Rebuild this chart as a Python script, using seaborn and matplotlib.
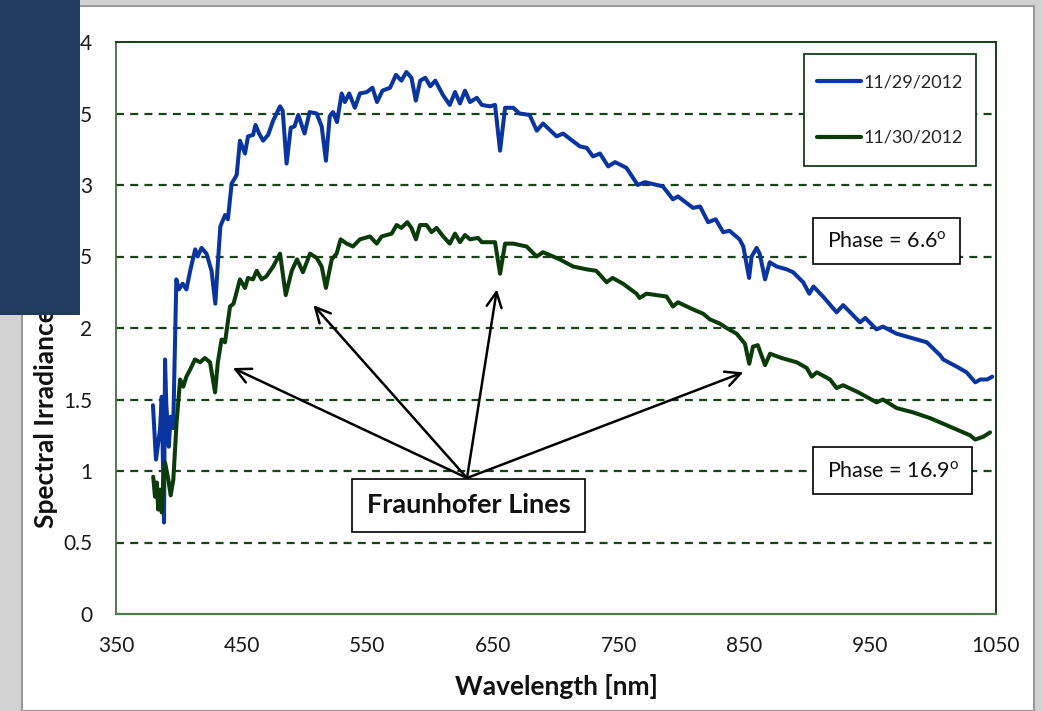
import numpy as np
import pandas as pd
import matplotlib
matplotlib.use("Agg")
import matplotlib.pyplot as plt
from matplotlib.patches import Rectangle
import seaborn as sns

# --- spectra -------------------------------------------------------------
wl_1129 = [379.4, 381.8, 385, 386.4, 388.2, 389, 390, 392, 393.5, 395.5, 398, 400, 403, 406,
           409, 413, 415, 418, 422, 426, 429, 431, 433, 436.7, 439, 442, 446, 448.6, 452.6,
           455, 459, 461, 463.8, 467, 471, 475, 480.5, 482.6, 485.7, 489, 492, 495, 500, 504,
           509.6, 513.6, 517, 520, 522.6, 525.8, 529.5, 532, 535.5, 540, 544, 549.5, 554,
           557.6, 562, 568, 572.7, 577, 581, 585, 588.5, 592, 596, 600, 604, 610, 615.5,
           619.7, 623.6, 627.6, 631.6, 637, 641, 647.5, 651.5, 655.5, 659.5, 666, 671, 679,
           684.7, 689.7, 700.5, 705.6, 719, 724.4, 729.4, 735, 741.5, 747, 756, 765, 770.8,
           785, 793, 797, 809, 814.6, 821, 827, 833, 838, 846, 849, 853.6, 855.6, 859.6, 862,
           866.3, 870, 875.5, 883.5, 888.6, 896.6, 901.5, 904.8, 912.4, 923.2, 928.4, 941.8,
           946, 955, 960, 971, 987, 995, 1005.5, 1008, 1018.7, 1026.6, 1033.5, 1037.5, 1043,
           1047]
irr_1129 = [1.46, 1.08, 1.29, 1.52, 0.64, 1.78, 1.47, 1.17, 1.38, 1.30, 2.34, 2.27, 2.31, 2.27,
            2.40, 2.55, 2.50, 2.56, 2.52, 2.40, 2.17, 2.45, 2.71, 2.79, 2.76, 3.01, 3.07, 3.31,
            3.22, 3.34, 3.35, 3.42, 3.36, 3.31, 3.35, 3.45, 3.55, 3.52, 3.15, 3.40, 3.41, 3.49,
            3.36, 3.51, 3.50, 3.41, 3.17, 3.48, 3.51, 3.44, 3.64, 3.58, 3.64, 3.54, 3.64, 3.65,
            3.68, 3.58, 3.66, 3.68, 3.77, 3.73, 3.79, 3.75, 3.59, 3.73, 3.75, 3.69, 3.73, 3.63,
            3.56, 3.65, 3.57, 3.66, 3.58, 3.61, 3.56, 3.55, 3.56, 3.24, 3.54, 3.54, 3.50, 3.49,
            3.38, 3.43, 3.34, 3.36, 3.27, 3.26, 3.20, 3.22, 3.13, 3.16, 3.12, 3.00, 3.02, 2.99,
            2.90, 2.92, 2.84, 2.85, 2.74, 2.76, 2.67, 2.68, 2.62, 2.57, 2.35, 2.50, 2.56, 2.52,
            2.34, 2.46, 2.43, 2.41, 2.39, 2.32, 2.24, 2.29, 2.22, 2.11, 2.16, 2.04, 2.07, 1.99,
            2.01, 1.96, 1.92, 1.90, 1.81, 1.78, 1.73, 1.69, 1.62, 1.64, 1.64, 1.66]

wl_1130 = [379.6, 381, 382.4, 383.6, 385, 386.4, 387.6, 389, 391.6, 393.5, 395.6, 398.2, 401,
           403.5, 406, 409, 412.8, 416.8, 420.7, 424.8, 428.8, 431, 434, 436.7, 440.7, 443.5,
           448.6, 452.6, 455, 459, 461.9, 465.8, 469.5, 475, 480.5, 485, 489.8, 494, 498.7,
           504.3, 509.6, 513.6, 517, 521.6, 525.5, 528.7, 533.5, 538.5, 544, 552, 557.4, 561.3,
           569.3, 573.2, 577, 581.7, 585, 588.6, 591.8, 597, 601, 605, 610.3, 615.5, 619.7,
           623.6, 627.6, 631.6, 638, 641, 651.5, 655.5, 659.5, 666, 676.6, 684.6, 689.7, 703,
           713.6, 724.4, 732, 740.3, 745, 753.3, 764, 766.5, 772, 788, 793, 797, 809, 817,
           822.5, 830.5, 835.7, 843.7, 850.3, 853.7, 856.7, 860.5, 866.3, 870.3, 879.5, 891.5,
           899.5, 903.4, 907.5, 918, 923.2, 928.4, 940.5, 955, 960, 971, 984, 997.5, 1005.5,
           1018.7, 1029.3, 1033.5, 1040, 1045.3]
irr_1130 = [0.96, 0.82, 0.92, 0.73, 0.87, 0.71, 0.92, 1.06, 0.94, 0.83, 0.94, 1.34, 1.64,
            1.59, 1.66, 1.71, 1.78, 1.76, 1.79, 1.76, 1.55, 1.76, 1.92, 1.90, 2.15, 2.17,
            2.34, 2.28, 2.35, 2.34, 2.40, 2.34, 2.36, 2.43, 2.52, 2.23, 2.40, 2.48, 2.39,
            2.52, 2.49, 2.43, 2.28, 2.48, 2.52, 2.62, 2.59, 2.57, 2.62, 2.64, 2.59, 2.64,
            2.66, 2.72, 2.70, 2.74, 2.70, 2.62, 2.72, 2.72, 2.67, 2.70, 2.64, 2.59, 2.66,
            2.60, 2.65, 2.62, 2.63, 2.60, 2.60, 2.38, 2.59, 2.59, 2.57, 2.50, 2.53, 2.48,
            2.43, 2.41, 2.40, 2.32, 2.35, 2.31, 2.24, 2.21, 2.24, 2.22, 2.15, 2.18, 2.13, 2.10,
            2.06, 2.03, 2.00, 1.96, 1.89, 1.75, 1.87, 1.88, 1.74, 1.82, 1.79, 1.76,
            1.72, 1.66, 1.69, 1.64, 1.58, 1.60, 1.55, 1.48, 1.50, 1.44, 1.41, 1.37, 1.34,
            1.29, 1.25, 1.22, 1.24, 1.27]

dates = ["11/29/2012", "11/30/2012"]
line_colors = ["#0a35a0", "#0b3a0b"]

x_ticks = [350, 450, 550, 650, 750, 850, 950, 1050]
y_ticks = [0, 0.5, 1, 1.5, 2, 2.5, 3, 3.5, 4]
y_tick_labels = ["0", "0.5", "1", "1.5", "2", "2.5", "3", "3.5", "4"]

phase_labels = ["Phase = 6.6$^{\\mathrm{o}}$", "Phase = 16.9$^{\\mathrm{o}}$"]
fraunhofer_label = "Fraunhofer Lines"
# wavelength / irradiance of the marked absorption features
fraunhofer_targets = [(443, 1.72), (507, 2.16), (653, 2.27), (849, 1.69)]

df = pd.concat([
    pd.DataFrame({"Wavelength": wl_1129, "Irradiance": irr_1129, "Date": dates[0]}),
    pd.DataFrame({"Wavelength": wl_1130, "Irradiance": irr_1130, "Date": dates[1]}),
], ignore_index=True)

# --- style ---------------------------------------------------------------
sns.set_theme(style="white")
plt.rcParams["font.family"] = ["Lato", "DejaVu Sans"]
plt.rcParams["mathtext.fontset"] = "custom"
plt.rcParams["mathtext.rm"] = "Lato"
plt.rcParams["mathtext.it"] = "Lato:italic"
plt.rcParams["mathtext.bf"] = "Lato:bold"

W, H = 1043, 711
fig = plt.figure(figsize=(W / 100, H / 100), dpi=100)
fig.patch.set_facecolor("#d2d2d2")

# slide panel behind the chart
fig.add_artist(Rectangle((22 / W, 0), (1034 - 22) / W, (H - 6) / H,
                         transform=fig.transFigure, facecolor="white",
                         edgecolor="#9a9a9a", lw=1.5, zorder=-5))

ax = fig.add_axes([116 / W, (H - 614) / H, 880 / W, 572 / H])
ax.set_facecolor("white")

sns.lineplot(data=df, x="Wavelength", y="Irradiance", hue="Date",
             palette=dict(zip(dates, line_colors)), estimator=None, sort=False,
             lw=2.9, ax=ax, legend=True)

ax.set_xlim(350, 1050)
ax.set_ylim(0, 4)
ax.set_xticks(x_ticks)
ax.set_xticklabels([str(t) for t in x_ticks])
ax.set_yticks(y_ticks)
ax.set_yticklabels(y_tick_labels)
ax.tick_params(axis="both", direction="out", length=7, width=1, color="#9a9a9a",
               labelsize=15, labelcolor="#1a1a1a")
ax.tick_params(axis="y", pad=10)
ax.tick_params(axis="x", pad=9)

# dashed horizontal gridlines
for yv in y_ticks[1:-1]:
    ax.axhline(yv, color="#1c421c", lw=1.6, ls=(0, (3.6, 2.8)), zorder=0.5)

for side in ["top", "right"]:
    ax.spines[side].set_color("#173d17")
    ax.spines[side].set_linewidth(1.4)
ax.spines["left"].set_color("#4a6a4a")
ax.spines["bottom"].set_color("#4e7a4e")
ax.spines["left"].set_linewidth(1.3)
ax.spines["bottom"].set_linewidth(1.6)

ax.set_xlabel("Wavelength [nm]", fontsize=19, fontweight="bold", color="#111111",
              labelpad=13)
ax.set_ylabel("")
fig.text(45 / W, (H - 528) / H, "Spectral Irradiance [\u00b5W/m\u00b2/nm]", rotation=90,
         ha="center", va="bottom", fontsize=19, fontweight="bold", color="#111111")

# legend: framed box drawn separately so its padding can differ per side
leg_box = (0.7818, 0.7832, 0.1955, 0.1958)
ax.add_patch(Rectangle(leg_box[:2], leg_box[2], leg_box[3], transform=ax.transAxes,
                       facecolor="white", edgecolor="#173d17", lw=1.3, zorder=6))
handles, labels = ax.get_legend_handles_labels()
leg = ax.legend(handles, labels, loc="center",
                bbox_to_anchor=(leg_box[0] + leg_box[2] / 2, leg_box[1] + leg_box[3] / 2),
                frameon=False, fontsize=13, handlelength=2.4, handletextpad=0.15,
                labelspacing=2.2, borderpad=0.2, borderaxespad=0)
leg.set_zorder(7)
for lh in leg.get_lines():
    lh.set_linewidth(3)

# phase annotations
box_kw = dict(boxstyle="square,pad=0.62", facecolor="white", edgecolor="black", lw=1.2)
ax.text(963, 2.608, phase_labels[0], ha="center", va="center", fontsize=15.5,
        color="#111111", bbox=box_kw, zorder=6)
ax.text(968, 1.003, phase_labels[1], ha="center", va="center", fontsize=15.5,
        color="#111111", bbox=box_kw, zorder=6)

# arrows to the absorption lines
origin = (629.2, 0.951)
for tx, ty in fraunhofer_targets:
    ax.annotate("", xy=(tx, ty), xytext=origin,
                arrowprops=dict(arrowstyle="->,head_length=0.9,head_width=0.45",
                                color="black", lw=1.8, shrinkA=0, shrinkB=0),
                zorder=5)
ax.text(630.4, 0.759, fraunhofer_label, ha="center", va="center", fontsize=19.5,
        fontweight="bold", color="#111111",
        bbox=dict(boxstyle="square,pad=0.55", facecolor="white", edgecolor="black", lw=1.2),
        zorder=6)

# title block in the upper-left corner of the slide
fig.add_artist(Rectangle((0, (H - 315) / H), 80 / W, 315 / H, transform=fig.transFigure,
                         facecolor="#203a5f", edgecolor="none", zorder=10))

fig.savefig("out.png", dpi=100, facecolor=fig.get_facecolor())
